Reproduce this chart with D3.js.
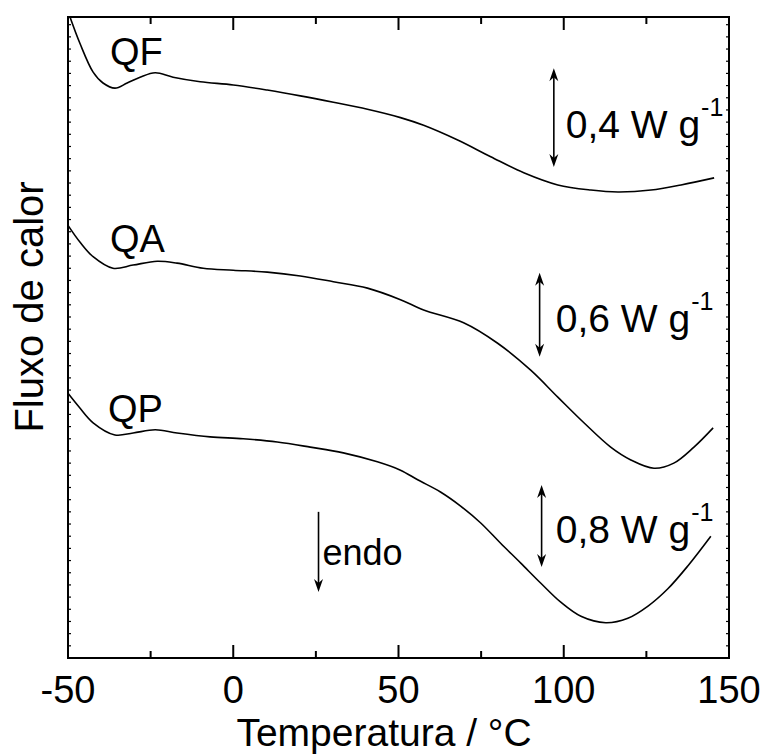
<!DOCTYPE html>
<html>
<head>
<meta charset="utf-8">
<script src="https://cdn.jsdelivr.net/npm/d3@7"></script>
<style>
  html, body { margin: 0; padding: 0; background: #fff; }
  svg { display: block; font-family: "Liberation Sans", Arial, sans-serif; }
</style>
</head>
<body>
<script>
// ---- data (temperature in °C, heat flow in arbitrary offset units) ----
const xTicks = [-50, 0, 50, 100, 150];
const xMinorTicks = [-25, 25, 75, 125];

const qfT = [-49.4, -46.4, -42.4, -39.4, -35.8, -32.1, -28.2, -23.6, -18.2, -10.0, 0, 10.3, 20.3, 30.3, 40.6, 50.6, 57.6, 67.9, 77.9, 87.9, 98.2, 108.2, 116.4, 126.4, 135.5, 145.5];
const qfV = [10.0, 9.59, 9.14, 8.97, 8.89, 8.97, 9.06, 9.13, 9.06, 8.99, 8.94, 8.86, 8.77, 8.67, 8.56, 8.43, 8.31, 8.08, 7.82, 7.57, 7.38, 7.30, 7.27, 7.30, 7.38, 7.49];

const qaT = [-50, -46.4, -42.4, -36.4, -30.3, -23.0, -17.0, -9.1, 0, 10.3, 20.3, 30.3, 40.6, 50.6, 57.6, 69.7, 80.0, 90.0, 98.2, 106.1, 114.2, 120.3, 127.3, 133.3, 139.4, 145.2];
const qaV = [6.75, 6.49, 6.26, 6.08, 6.13, 6.19, 6.16, 6.08, 6.05, 6.02, 5.96, 5.87, 5.77, 5.59, 5.43, 5.23, 4.91, 4.49, 4.07, 3.67, 3.29, 3.09, 2.96, 3.04, 3.29, 3.59];

const qpT = [-50, -46.4, -42.4, -35.8, -30.3, -23.6, -17.0, -7.0, 3.0, 13.3, 23.3, 33.3, 43.6, 50.6, 55.8, 62.7, 68.8, 74.8, 80.9, 87.0, 93.0, 99.1, 105.2, 112.7, 119.4, 125.5, 131.5, 137.6, 144.5];
const qpV = [4.13, 3.90, 3.67, 3.48, 3.51, 3.56, 3.51, 3.45, 3.42, 3.37, 3.29, 3.20, 3.06, 2.93, 2.78, 2.59, 2.37, 2.11, 1.79, 1.48, 1.17, 0.87, 0.65, 0.55, 0.62, 0.81, 1.08, 1.44, 1.90];

const curveNames = ["QF", "QA", "QP"];
const nameT = [-37.3, -37.3, -37.9];
const nameV = [9.25, 6.33, 3.68];

// scale bars: x (°C), top, bottom, label
const barT = [97.0, 92.7, 93.3];
const barTop = [9.20, 6.01, 2.70];
const barBottom = [7.66, 4.70, 1.42];
const barLabels = ["0,4 W g", "0,6 W g", "0,8 W g"];
const barLabelT = [100.6, 97.6, 97.6];
const barLabelV = [8.11, 5.09, 1.79];

const endoT = 25.8, endoTop = 2.28, endoBottom = 1.03;
const endoLabelT = 27.0, endoLabelV = 1.45;

// ---- layout ----
const W = 765, H = 756;
const m = { left: 68, right: 36, top: 17, bottom: 98 };
const svg = d3.select("body").append("svg").attr("width", W).attr("height", H);

const x = d3.scaleLinear().domain([-50, 150]).range([m.left, W - m.right]);
const y = d3.scaleLinear().domain([0, 10]).range([H - m.bottom, m.top]);

const x0 = x.range()[0], x1 = x.range()[1], y0 = y.range()[0], y1 = y.range()[1];

// frame
svg.append("rect").attr("x", x0).attr("y", y1).attr("width", x1 - x0).attr("height", y0 - y1)
  .attr("fill", "none").attr("stroke", "#000").attr("stroke-width", 2);

// x ticks bottom & top (inward)
const tickG = svg.append("g").attr("stroke", "#000").attr("stroke-width", 2);
xTicks.forEach(t => {
  tickG.append("line").attr("x1", x(t)).attr("x2", x(t)).attr("y1", y0).attr("y2", y0 - 13);
  tickG.append("line").attr("x1", x(t)).attr("x2", x(t)).attr("y1", y1).attr("y2", y1 + 13);
});
xMinorTicks.forEach(t => {
  tickG.append("line").attr("x1", x(t)).attr("x2", x(t)).attr("y1", y0).attr("y2", y0 - 7);
  tickG.append("line").attr("x1", x(t)).attr("x2", x(t)).attr("y1", y1).attr("y2", y1 + 7);
});
// tiny y ticks left & right
const yTickVals = d3.range(0.19, 10, 0.19);
const yTickG = svg.append("g").attr("stroke", "#000").attr("stroke-width", 1.2);
yTickVals.forEach(v => {
  yTickG.append("line").attr("x1", x0).attr("x2", x0 + 3).attr("y1", y(v)).attr("y2", y(v));
  yTickG.append("line").attr("x1", x1).attr("x2", x1 - 3).attr("y1", y(v)).attr("y2", y(v));
});

// x tick labels
svg.append("g").selectAll("text").data(xTicks).join("text")
  .attr("x", d => x(d)).attr("y", y0 + 45).attr("text-anchor", "middle")
  .attr("font-size", 38).text(d => d);

// axis titles
svg.append("text").attr("x", 384).attr("y", 746).attr("text-anchor", "middle")
  .attr("font-size", 39).text("Temperatura / °C");
svg.append("text").attr("transform", "translate(43,307) rotate(-90)").attr("text-anchor", "middle")
  .attr("font-size", 40).text("Fluxo de calor");

// curves
const line = d3.line().x(d => x(d[0])).y(d => y(d[1])).curve(d3.curveCatmullRom.alpha(0.5));
const series = [d3.zip(qfT, qfV), d3.zip(qaT, qaV), d3.zip(qpT, qpV)];
svg.append("defs").append("clipPath").attr("id", "clip")
  .append("rect").attr("x", x0).attr("y", y1).attr("width", x1 - x0).attr("height", y0 - y1);
svg.append("g").attr("clip-path", "url(#clip)").selectAll("path").data(series).join("path")
  .attr("d", line).attr("fill", "none").attr("stroke", "#000").attr("stroke-width", 1.6);

// curve names
svg.append("g").selectAll("text").data(curveNames).join("text")
  .attr("x", (d, i) => x(nameT[i])).attr("y", (d, i) => y(nameV[i]))
  .attr("font-size", 38).text(d => d);

// arrow helpers
function arrowHead(g, px, py, dir) { // dir: -1 up, +1 down
  const L = 13, hw = 4.5;
  g.append("path")
    .attr("d", `M${px},${py} L${px - hw},${py - dir * L} L${px},${py - dir * (L - 4)} L${px + hw},${py - dir * L} Z`)
    .attr("fill", "#000");
}
const ann = svg.append("g");
barT.forEach((t, i) => {
  const px = x(t), pt = y(barTop[i]), pb = y(barBottom[i]);
  ann.append("line").attr("x1", px).attr("x2", px).attr("y1", pt + 4).attr("y2", pb - 4)
    .attr("stroke", "#000").attr("stroke-width", 1.6);
  arrowHead(ann, px, pt, -1);
  arrowHead(ann, px, pb, 1);
  const txt = ann.append("text").attr("x", x(barLabelT[i])).attr("y", y(barLabelV[i])).attr("font-size", 39);
  txt.append("tspan").text(barLabels[i]);
  txt.append("tspan").attr("font-size", 25).attr("dy", -22).attr("dx", 1).text("-1");
});
// endo arrow
{
  const px = x(endoT), pt = y(endoTop), pb = y(endoBottom);
  ann.append("line").attr("x1", px).attr("x2", px).attr("y1", pt).attr("y2", pb - 4)
    .attr("stroke", "#000").attr("stroke-width", 1.6);
  arrowHead(ann, px, pb, 1);
  ann.append("text").attr("x", x(endoLabelT)).attr("y", y(endoLabelV)).attr("font-size", 36).text("endo");
}
</script>
</body>
</html>
